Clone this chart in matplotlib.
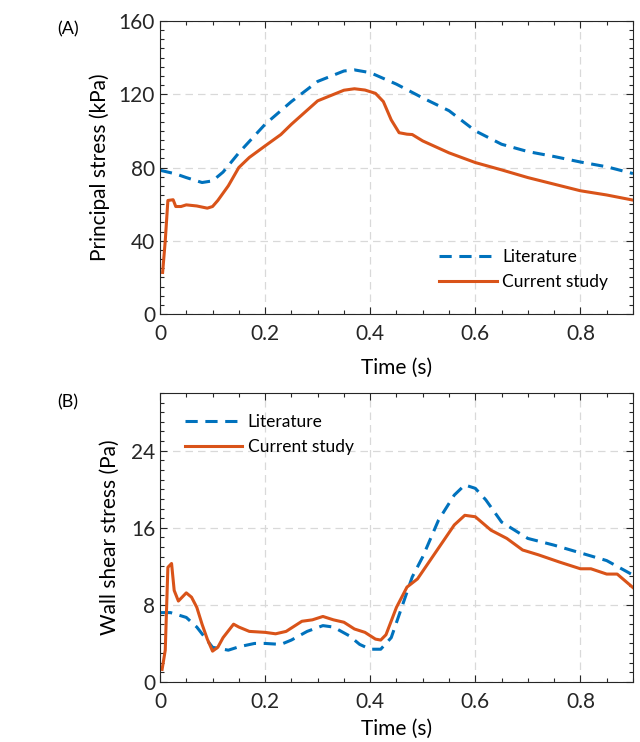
import numpy as np
import matplotlib.pyplot as plt
from matplotlib.ticker import MultipleLocator

plt.rcParams['font.family'] = ['Lato', 'DejaVu Sans']

BLUE = '#0072BD'
ORANGE = '#D95319'

# (A) principal stress, kPa
t_lit_a = [0, 0.03, 0.05, 0.08, 0.1, 0.12, 0.15, 0.2, 0.25, 0.3, 0.35, 0.37,
           0.4, 0.45, 0.5, 0.55, 0.6, 0.65, 0.7, 0.75, 0.8, 0.85, 0.9]
ps_lit = [78.5, 76.5, 74.5, 71.8, 72.7, 77.5, 88, 103.6, 116, 127, 132.7,
          133.3, 131.8, 125.5, 118, 111, 100, 92.7, 88.7, 86, 83, 80.4, 76.7]

t_cur_a = [0.005, 0.01, 0.015, 0.025, 0.03, 0.04, 0.05, 0.07, 0.09, 0.1, 0.11,
           0.13, 0.15, 0.17, 0.2, 0.23, 0.25, 0.3, 0.35, 0.37, 0.39, 0.41,
           0.425, 0.44, 0.455, 0.47, 0.48, 0.5, 0.55, 0.6, 0.65, 0.7, 0.75,
           0.8, 0.85, 0.9]
ps_cur = [22.7, 40, 62, 62.4, 58.7, 58.7, 59.6, 59, 57.8, 58.7, 62,
          70, 80, 85.5, 91.8, 98, 103.6, 116.4, 122.2, 123, 122.3, 120.5,
          116, 106, 99, 98.2, 98, 94.5, 88, 82.7, 78.7, 74.5, 70.9,
          67.3, 65, 62.2]

# (B) wall shear stress, Pa
t_lit_b = [0, 0.02, 0.05, 0.07, 0.1, 0.13, 0.15, 0.18, 0.2, 0.23, 0.25, 0.28,
           0.31, 0.33, 0.36, 0.38, 0.4, 0.42, 0.44, 0.46, 0.48, 0.5, 0.53,
           0.56, 0.58, 0.6, 0.62, 0.65, 0.7, 0.75, 0.8, 0.85, 0.9]
wss_lit = [7.2, 7.2, 6.7, 5.7, 3.6, 3.3, 3.65, 4.0, 4.0, 3.9, 4.35, 5.25,
           5.85, 5.7, 4.8, 3.9, 3.4, 3.4, 4.6, 7.75, 10.9, 13, 16.8,
           19.4, 20.45, 20.1, 18.9, 16.6, 14.9, 14.2, 13.4, 12.6, 11.1]

t_cur_b = [0.004, 0.01, 0.015, 0.022, 0.027, 0.035, 0.05, 0.06, 0.07, 0.08,
           0.09, 0.1, 0.11, 0.12, 0.14, 0.15, 0.17, 0.2, 0.22, 0.24, 0.27,
           0.29, 0.31, 0.33, 0.35, 0.37, 0.39, 0.41, 0.42, 0.43, 0.45, 0.47,
           0.49, 0.51, 0.54, 0.56, 0.58, 0.6, 0.63, 0.66, 0.69, 0.72, 0.76,
           0.8, 0.82, 0.85, 0.87, 0.9]
wss_cur = [1.3, 3.3, 11.9, 12.3, 9.5, 8.4, 9.25, 8.8, 7.75, 6.0,
           4.45, 3.2, 3.6, 4.6, 6.0, 5.7, 5.25, 5.15, 5.0, 5.25, 6.3,
           6.45, 6.8, 6.45, 6.2, 5.5, 5.15, 4.45, 4.35, 4.9, 7.75, 9.85,
           10.7, 12.3, 14.7, 16.3, 17.3, 17.15, 15.75, 14.9, 13.7, 13.2, 12.45,
           11.75, 11.75, 11.2, 11.2, 9.8]


def style_axes(ax, ymax, ymajor, yminor, xpad):
    ax.set_xlim(0, 0.9)
    ax.set_ylim(0, ymax)
    ax.xaxis.set_major_locator(MultipleLocator(0.2))
    ax.xaxis.set_minor_locator(MultipleLocator(0.05))
    ax.yaxis.set_major_locator(MultipleLocator(ymajor))
    ax.yaxis.set_minor_locator(MultipleLocator(yminor))
    ax.xaxis.set_major_formatter(lambda v, p: '0' if v == 0 else f'{v:.1f}')
    ax.tick_params(which='both', direction='in', top=True, right=True,
                   colors='#262626', labelsize=15, width=0.8)
    ax.tick_params(axis='x', which='major', pad=7)
    ax.tick_params(which='major', length=5)
    ax.tick_params(which='minor', length=3)
    ax.grid(True, which='major', color='#d9d9d9', linestyle=(0, (6, 4)),
            linewidth=0.9)
    for s in ax.spines.values():
        s.set_color('#262626')
        s.set_linewidth(0.8)
    ax.set_xlabel('Time (s)', fontsize=15, labelpad=xpad)


fig = plt.figure(figsize=(6.4, 7.42), dpi=100)
ax1 = fig.add_axes([0.25, 0.5768, 0.739, 0.3949])
ax2 = fig.add_axes([0.25, 0.0809, 0.739, 0.3895])

ax1.plot(t_lit_a, ps_lit, color=BLUE, linewidth=2.2, dashes=(4, 2.5),
         label='Literature')
ax1.plot(t_cur_a, ps_cur, color=ORANGE, linewidth=2.2, label='Current study')
style_axes(ax1, 160, 40, 5, 10)
ax1.set_ylabel('Principal stress (kPa)', fontsize=15, labelpad=6)
ax1.legend(loc='lower right', frameon=False, fontsize=12.5, handlelength=3.3,
           handletextpad=0.3, bbox_to_anchor=(0.98, 0.03))
fig.text(0.09, 0.961, '(A)', fontsize=13, va='center')

ax2.plot(t_lit_b, wss_lit, color=BLUE, linewidth=2.2, dashes=(4, 2.5),
         label='Literature')
ax2.plot(t_cur_b, wss_cur, color=ORANGE, linewidth=2.2, label='Current study')
style_axes(ax2, 30, 8, 1, 5)
ax2.set_ylabel('Wall shear stress (Pa)', fontsize=15, labelpad=8)
ax2.legend(loc='upper left', frameon=False, fontsize=12.5, handlelength=3.3,
           handletextpad=0.3, bbox_to_anchor=(0.02, 0.98))
fig.text(0.09, 0.458, '(B)', fontsize=13, va='center')

fig.savefig('out.png', dpi=100)
